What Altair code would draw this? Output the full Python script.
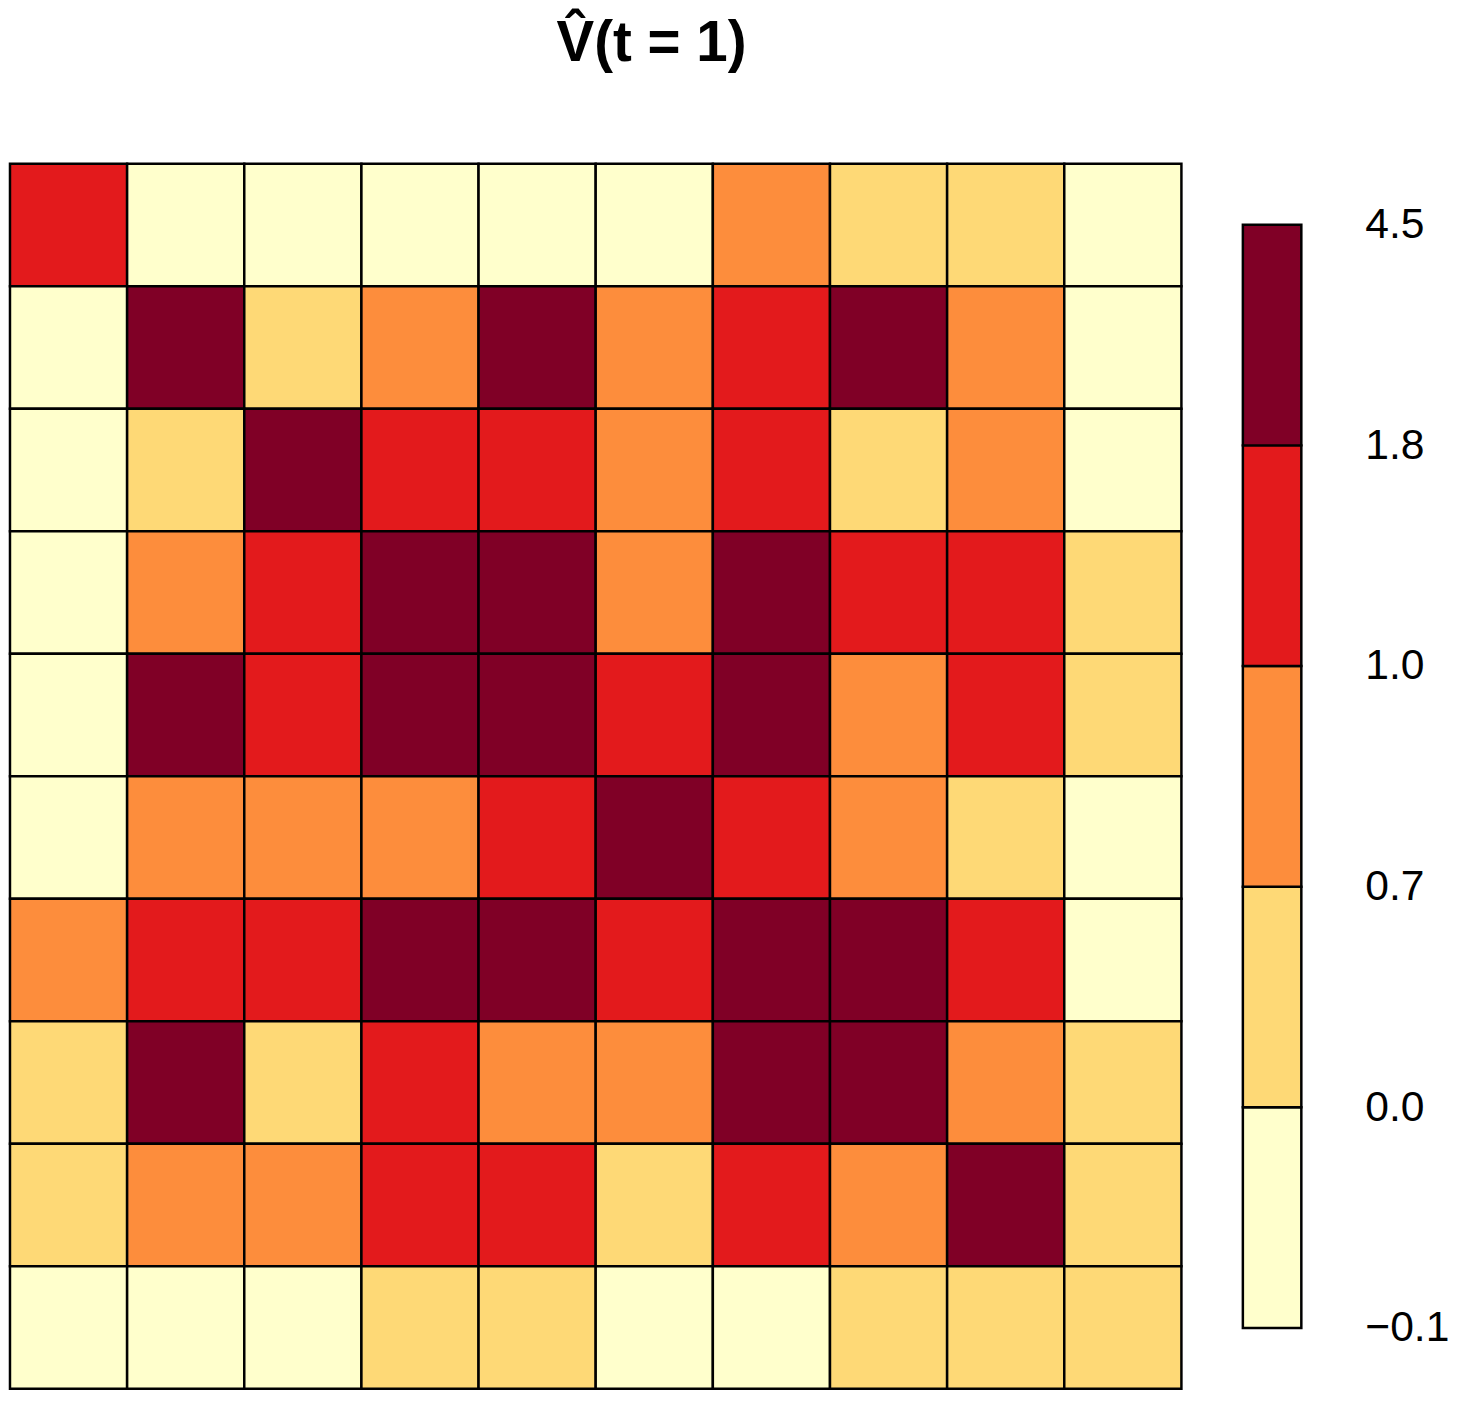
import altair as alt
import pandas as pd

# ---- data (rows top -> bottom, columns left -> right)
values = [
    [1.5, -0.05, -0.04, -0.10, -0.03, -0.05, 0.85, 0.30, 0.35, -0.02],
    [-0.05, 4.5, 0.45, 0.80, 2.10, 0.90, 1.30, 2.00, 0.80, -0.03],
    [-0.04, 0.45, 3.2, 1.20, 1.50, 0.75, 1.10, 0.50, 0.90, -0.01],
    [-0.10, 0.80, 1.20, 3.8, 2.20, 0.95, 1.90, 1.60, 1.20, 0.20],
    [-0.03, 2.10, 1.50, 2.20, 4.0, 1.40, 2.30, 0.80, 1.10, 0.40],
    [-0.05, 0.90, 0.75, 0.95, 1.40, 3.0, 1.70, 0.85, 0.60, -0.04],
    [0.85, 1.30, 1.10, 1.90, 2.30, 1.70, 3.5, 2.40, 1.30, -0.02],
    [0.30, 2.00, 0.50, 1.60, 0.80, 0.85, 2.40, 3.9, 0.90, 0.30],
    [0.35, 0.80, 0.90, 1.20, 1.10, 0.60, 1.30, 0.90, 2.8, 0.50],
    [-0.02, -0.03, -0.01, 0.20, 0.40, -0.04, -0.02, 0.30, 0.50, 0.60],
]
breaks = [-0.1, 0.0, 0.7, 1.0, 1.8, 4.5]
break_labels = ["\u22120.1", "0.0", "0.7", "1.0", "1.8", "4.5"]
colors = ["#FFFFCC", "#FED976", "#FD8D3C", "#E31A1C", "#800026"]
title_text = "V\u0302(t = 1)"

FONT = "Liberation Sans"

cells = pd.DataFrame(
    [{"row": r, "col": c, "value": v} for r, rowvals in enumerate(values) for c, v in enumerate(rowvals)]
)
n = len(values)
H = 1236

heat = (
    alt.Chart(cells)
    .transform_calculate(col2="datum.col + 1", row2="datum.row + 1")
    .mark_rect(stroke="black", strokeWidth=2.5)
    .encode(
        x=alt.X("col:Q", scale=alt.Scale(domain=[0, n], nice=False, zero=False), axis=None),
        x2="col2:Q",
        y=alt.Y("row:Q", scale=alt.Scale(domain=[0, n], nice=False, zero=False, reverse=True), axis=None),
        y2="row2:Q",
        color=alt.Color(
            "value:Q",
            scale=alt.Scale(type="threshold", domain=breaks[1:-1], range=colors),
            legend=None,
        ),
    )
    .properties(width=1182, height=H)
)

bins = pd.DataFrame({"lo": list(range(len(colors))), "hi": list(range(1, len(colors) + 1)), "color": colors})
label_array = "[" + ",".join("'" + s + "'" for s in break_labels) + "]"

legend = (
    alt.Chart(bins)
    .mark_rect(stroke="black", strokeWidth=2.5)
    .encode(
        x=alt.value(0),
        x2=alt.value(59),
        y=alt.Y(
            "lo:Q",
            scale=alt.Scale(domain=[-0.276, len(colors) + 0.276], nice=False, zero=False),
            axis=alt.Axis(
                orient="right",
                values=list(range(len(break_labels))),
                labelExpr=label_array + "[datum.value]",
                ticks=False,
                domain=False,
                grid=False,
                labelFontSize=43,
                labelFont=FONT,
                labelColor="black",
                labelPadding=3,
                offset=0,
                title=None,
            ),
        ),
        y2="hi:Q",
        color=alt.Color("color:N", scale=None, legend=None),
    )
    .properties(width=120, height=H)
)

chart = (
    alt.hconcat(heat, legend, spacing=58)
    .properties(
        padding=0,
        title=alt.TitleParams(
            text=title_text,
            font=FONT,
            fontSize=57,
            fontWeight="bold",
            color="black",
            anchor="middle",
            dx=-78,
            dy=10,
            offset=101,
        ),
    )
    .configure_view(strokeWidth=0)
)

chart.save("out.html", embed_options={"renderer": "svg", "actions": False})
